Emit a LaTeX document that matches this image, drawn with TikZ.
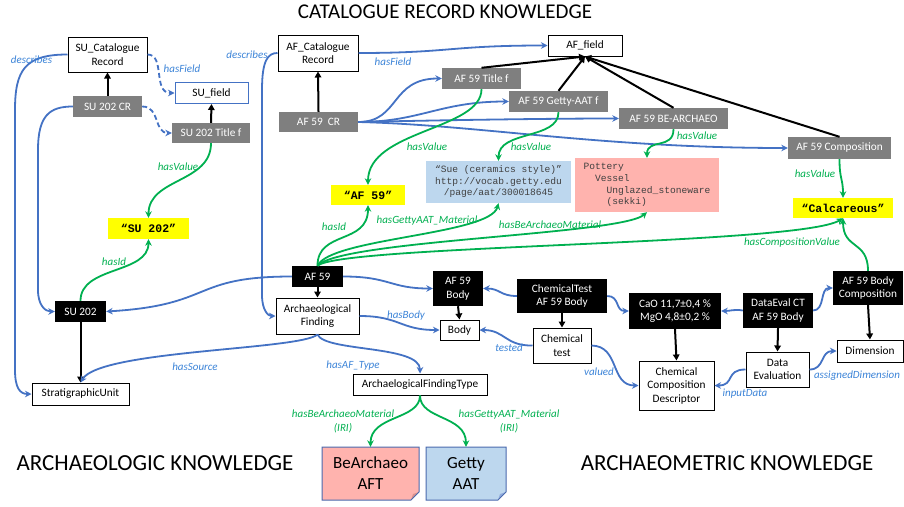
\documentclass[tikz,border=0pt]{standalone}
\usepackage{fontspec}
\setmainfont{Carlito}
\newfontfamily\monof{Liberation Mono}
\usetikzlibrary{arrows.meta}
\definecolor{eblue}{HTML}{4472C4}
\definecolor{lblue}{HTML}{3C84D8}
\definecolor{egreen}{HTML}{00B050}
\definecolor{graybx}{HTML}{7F7F7F}
\definecolor{ylw}{HTML}{FFFF00}
\definecolor{lbluefill}{HTML}{BDD7EE}
\definecolor{pinkfill}{HTML}{FFB3AE}
\definecolor{notebd}{HTML}{4A6AAE}
\definecolor{monotext}{HTML}{404040}
\definecolor{pinkfold}{HTML}{D9918C}
\definecolor{bluefold}{HTML}{8FAADC}
\tikzset{
  base/.style={inner sep=0pt, align=center, font=\fontsize{11.3}{13.5}\selectfont},
  wbox/.style={base, draw=black, line width=1pt, fill=white},
  graybox/.style={base, fill=graybx, text=white},
  blkbox/.style={base, fill=black, text=white},
  ybox/.style={inner sep=0pt, fill=ylw, font=\monof\bfseries\fontsize{11.5}{13}\selectfont},
  gettybox/.style={inner sep=0pt, fill=lbluefill, text=monotext, align=center, font=\monof\fontsize{9.6}{11.5}\selectfont},
  pinkbox/.style={inner sep=0pt, fill=pinkfill, text=monotext, align=left, font=\monof\fontsize{9.6}{11.7}\selectfont},
  blueedge/.style={draw=eblue, line width=1.8pt, -{Stealth[length=6.5pt,width=6.5pt]}},
  blueedgedash/.style={blueedge, dash pattern=on 5pt off 3pt},
  greenedge/.style={draw=egreen, line width=1.8pt, -{Stealth[length=6.5pt,width=6.5pt]}},
  blackedge/.style={draw=black, line width=2pt, -{Triangle[length=6pt,width=6.5pt]}},
  blabel/.style={inner sep=0pt, text=lblue, font=\itshape\fontsize{11}{13}\selectfont},
  glabel/.style={inner sep=0pt, text=egreen, font=\itshape\fontsize{11}{14}\selectfont},
  toptitle/.style={inner sep=0pt, font=\fontsize{21}{25}\selectfont},
  bottitle/.style={inner sep=0pt, font=\fontsize{23}{27}\selectfont},
  notetext/.style={inner sep=0pt, align=center, font=\fontsize{17}{21}\selectfont, minimum width=97, minimum height=53}
}
\begin{document}
\begin{tikzpicture}[x=1pt,y=-1pt]
\useasboundingbox (0,0) rectangle (904,506);
\fill[white] (0,0) rectangle (904,506);

% titles
\node[toptitle] (ttop) at (445,12) {CATALOGUE RECORD KNOWLEDGE};
\node[bottitle] (tleft) at (155,463) {ARCHAEOLOGIC KNOWLEDGE};
\node[bottitle] (tright) at (727,463) {ARCHAEOMETRIC KNOWLEDGE};

% SU side
\node[wbox, minimum width=79, minimum height=35] (sucat) at (107.5,54.5) {SU\_Catalogue\\Record};
\node[wbox, draw=eblue, minimum width=73, minimum height=21] (sufield) at (211.5,93) {SU\_field};
\node[graybox, minimum width=69, minimum height=21] (sucr) at (107.5,106.5) {SU 202 CR};
\node[graybox, minimum width=78, minimum height=20] (sutf) at (211,133) {SU 202 Title f};
\node[ybox, minimum width=81, minimum height=21] (suy) at (148.5,228.5) {“SU 202”};
\node[blkbox, minimum width=51, minimum height=21] (su202) at (80.5,311.5) {SU 202};
\node[wbox, minimum width=97, minimum height=22] (stratu) at (80.5,394) {StratigraphicUnit};

% AF catalogue
\node[wbox, minimum width=80, minimum height=36] (afcat) at (318,53) {AF\_Catalogue\\Record};
\node[wbox, minimum width=74, minimum height=21] (affield) at (585,45.5) {AF\_field};
\node[graybox, minimum width=79, minimum height=20] (afcr) at (318.5,122) {AF 59~~CR};
\node[graybox, minimum width=79, minimum height=21] (aftitle) at (481.5,78.5) {AF 59 Title f};
\node[graybox, minimum width=99, minimum height=21] (afgetty) at (558.5,101.5) {AF 59 Getty-AAT f};
\node[graybox, minimum width=109, minimum height=21] (afbe) at (673.5,118.5) {AF 59 BE-ARCHAEO};
\node[graybox, minimum width=103, minimum height=22] (afcomp) at (839.5,148) {AF 59 Composition};
\node[ybox, minimum width=74, minimum height=20] (afy) at (368,195) {“AF 59”};
\node[gettybox, minimum width=145, minimum height=42] (gettyb) at (498.5,182) {“Sue (ceramics style)”\\http://vocab.getty.edu\\/page/aat/300018645};
\node[pinkbox, minimum width=144, minimum height=54] (pinkb) at (647,185) {Pottery\\\hspace*{11.5pt}Vessel\\\hspace*{23pt}Unglazed\_stoneware\\\hspace*{23pt}(sekki)};
\node[ybox, minimum width=100, minimum height=20] (calc) at (843,208) {“Calcareous”};

% archaeologic
\node[blkbox, minimum width=51, minimum height=21] (af59) at (317.5,276.5) {AF 59};
\node[wbox, minimum width=83, minimum height=36] (afind) at (317.5,316) {Archaeological\\Finding};
\node[blkbox, minimum width=50, minimum height=35] (afbody) at (458,288.5) {AF 59\\Body};
\node[wbox, minimum width=39, minimum height=20] (body) at (459.5,330) {Body};
\node[wbox, minimum width=134, minimum height=21] (aft) at (420,384.5) {ArchaelogicalFindingType};

% archaeometric
\node[blkbox, minimum width=90, minimum height=34] (ctest) at (562,296) {ChemicalTest\\AF 59 Body};
\node[wbox, minimum width=58, minimum height=35] (chemt) at (562,345.5) {Chemical\\test};
\node[blkbox, minimum width=92, minimum height=36] (cao) at (675,311) {CaO 11,7±0,4 \%\\MgO 4,8±0,2 \%};
\node[blkbox, minimum width=70, minimum height=35] (dataev) at (778,310.5) {DataEval CT\\AF 59 Body};
\node[blkbox, minimum width=70, minimum height=34] (afbc) at (868,288) {AF 59 Body\\Composition};
\node[wbox, minimum width=66, minimum height=22] (dim) at (870,351) {Dimension};
\node[wbox, minimum width=63, minimum height=35] (dataeval) at (777.5,369.5) {Data\\Evaluation};
\node[wbox, minimum width=75, minimum height=49] (ccd) at (676.5,385.5) {Chemical\\Composition\\Descriptor};

% notes
\fill[pinkfill] (322,447) -- (419,447) -- (419,492) -- (411,500) -- (322,500) -- cycle;
\fill[pinkfold] (419,492) -- (411,500) -- (413,494) -- cycle;
\draw[notebd, line width=1pt] (322,447) -- (419,447) -- (419,492) -- (411,500) -- (322,500) -- cycle;
\fill[lbluefill] (426,447) -- (506,447) -- (506,492) -- (498,500) -- (426,500) -- cycle;
\fill[bluefold] (506,492) -- (498,500) -- (500,494) -- cycle;
\draw[notebd, line width=1pt] (426,447) -- (506,447) -- (506,492) -- (498,500) -- (426,500) -- cycle;
\node[notetext] (bearch) at (370.5,473.5) {BeArchaeo\\AFT};
\node[notetext, minimum width=80] (gettyaat) at (466,473.5) {Getty\\AAT};

% black arrows
\draw[blackedge] (sucr.north) -- (sucat.south);
\draw[blackedge] (sutf.north) -- (sufield.south);
\draw[blackedge] (su202.south) -- (stratu.north);
\draw[blackedge] (afcr.north) -- (afcat.south);
\draw[blackedge] (aftitle.north) -- (affield.south);
\draw[blackedge] (afgetty.north) -- (affield.south);
\draw[blackedge] (afbe.north) -- (affield.south);
\draw[blackedge] (afcomp.north) -- (affield.south);
\draw[blackedge] (af59.south) -- (afind.north);
\draw[blackedge] (afbody.south) -- (body.north);
\draw[blackedge] (ctest.south) -- (chemt.north);
\draw[blackedge] (cao.south) -- (ccd.north);
\draw[blackedge] (dataev.south) -- (dataeval.north);
\draw[blackedge] (afbc.south) -- (dim.north);

% blue edges SU side
\draw[blueedgedash] (sucat.east) .. controls +(18,0) and +(-22,0) .. (sufield.west);
\draw[blueedgedash] (sucr.east) .. controls +(18,0) and +(-18,0) .. (sutf.west);
\draw[blueedge] (sucat.west) .. controls (25,54.5) and (15,70) .. (15,110) -- (15,370) .. controls (15,388) and (20,394) .. (stratu.west);
\draw[blueedge] (sucr.west) .. controls (50,106.5) and (38,115) .. (38,150) -- (38,290) .. controls (38,305) and (45,311.5) .. (su202.west);
\draw[blueedge] (af59.west) .. controls (190,276.5) and (215,305) .. (su202.east);
\draw[blueedge] (afind.south) .. controls (300,350) and (100,350) .. (stratu.north);

% blue edges AF side
\draw[blueedge] (afcat.west) .. controls (268,53) and (262,60) .. (262,90) -- (262,295) .. controls (262,310) and (268,316) .. (afind.west);
\draw[blueedge] (afcat.east) .. controls (450,53) and (450,45.5) .. (affield.west);
\draw[blueedge] (afcr.east) .. controls (400,122) and (390,78.5) .. (aftitle.west);
\draw[blueedge] (afcr.east) .. controls (420,122) and (440,101.5) .. (afgetty.west);
\draw[blueedge] (afcr.east) .. controls (450,120) and (550,118.5) .. (afbe.west);
\draw[blueedge] (afcr.east) .. controls (480,125) and (600,148) .. (afcomp.west);
\draw[blueedge] (afind.south) .. controls (325,352) and (420,345) .. (aft.north);
\draw[blueedge] (af59.east) .. controls (390,276.5) and (390,288.5) .. (afbody.west);
\draw[blueedge] (afind.east) .. controls (400,316) and (400,330) .. (body.west);

% blue edges archaeometric
\draw[blueedge] (ctest.west) .. controls (500,296) and (500,288.5) .. (afbody.east);
\draw[blueedge] (chemt.west) .. controls (505,346) and (505,330) .. (body.east);
\draw[blueedge] (chemt.east) .. controls (620,346) and (610,385.5) .. (ccd.west);
\draw[blueedge] (ctest.east) .. controls (620,296) and (615,311) .. (cao.west);
\draw[blueedge] (dataev.west) .. controls (735,309) and (730,311) .. (cao.east);
\draw[blueedge] (dataev.east) .. controls (825,310.5) and (820,288) .. (afbc.west);
\draw[blueedge] (dataeval.east) .. controls (825,369.5) and (820,351) .. (dim.west);
\draw[blueedge] (dataeval.west) .. controls (725,369.5) and (735,385.5) .. (ccd.east);

% green edges
\draw[greenedge] (sutf.south) .. controls +(0,40) and +(0,-40) .. (suy.north);
\draw[greenedge] (su202.north) .. controls +(0,-35) and +(0,35) .. (suy.south);
\draw[greenedge] (aftitle.south) .. controls (481.5,130) and (368,130) .. (afy.north);
\draw[greenedge] (afgetty.south) .. controls (558.5,140) and (498.5,130) .. (gettyb.north);
\draw[greenedge] (afbe.south) .. controls (673.5,150) and (647,138) .. (pinkb.north);
\draw[greenedge] (afcomp.south) .. controls (839.5,180) and (843,178) .. (calc.north);
\draw[greenedge] (af59.north) .. controls (317.5,230) and (368,245) .. (afy.south);
\draw[greenedge] (af59.north) .. controls (330,238) and (490,235) .. (gettyb.south);
\draw[greenedge] (af59.north) .. controls (340,240) and (620,235) .. (pinkb.south);
\draw[greenedge] (af59.north) .. controls (340,245) and (800,245) .. (calc.south);
\draw[greenedge] (afbc.north) .. controls (868,240) and (843,250) .. (calc.south);
\draw[greenedge] (aft.south) .. controls (420,420) and (370.5,415) .. (bearch.north);
\draw[greenedge] (aft.south) .. controls (420,420) and (466,415) .. (gettyaat.north);

% labels
\node[blabel] (l1) at (31.5,60) {describes};
\node[blabel] (l2) at (182,69) {hasField};
\node[glabel] (l3) at (178,167) {hasValue};
\node[glabel] (l4) at (114,262) {hasId};
\node[blabel] (l5) at (195,367) {hasSource};
\node[blabel] (l6) at (247,55) {describes};
\node[blabel] (l7) at (393,62) {hasField};
\node[glabel] (l8) at (427,147) {hasValue};
\node[glabel] (l9) at (531,147) {hasValue};
\node[glabel] (l10) at (697,136) {hasValue};
\node[glabel] (l11) at (815,174) {hasValue};
\node[glabel] (l12) at (334,227) {hasId};
\node[glabel] (l13) at (427,221) {hasGettyAAT\_Material};
\node[glabel] (l14) at (550,225) {hasBeArchaeoMaterial};
\node[glabel] (l15) at (792,243) {hasCompositionValue};
\node[blabel] (l16) at (406,316) {hasBody};
\node[blabel] (l17) at (509,348) {tested};
\node[blabel] (l18) at (599,372) {valued};
\node[blabel] (l19) at (353,366) {hasAF\_Type};
\node[blabel] (l20) at (745,394) {inputData};
\node[blabel] (l21) at (857,376) {assignedDimension};
\node[glabel, align=center] (l22) at (343,421.5) {hasBeArchaeoMaterial\\(IRI)};
\node[glabel, align=center] (l23) at (509,421.5) {hasGettyAAT\_Material\\(IRI)};
\end{tikzpicture}
\end{document}
